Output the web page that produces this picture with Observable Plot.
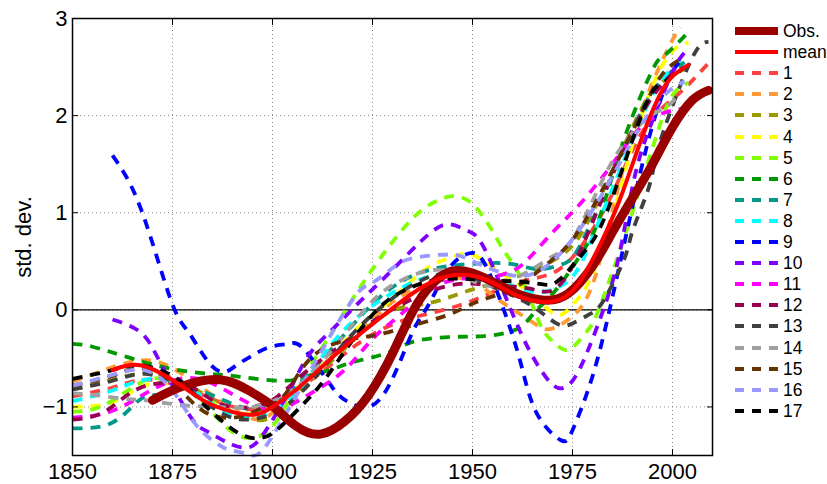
<!DOCTYPE html>
<html><head><meta charset="utf-8">
<script src="https://cdn.jsdelivr.net/npm/d3@7"></script>
<script src="https://cdn.jsdelivr.net/npm/@observablehq/plot@0.6"></script>
<style>
body{margin:0;background:#fff;}
#wrap{position:relative;width:827px;height:484px;font-family:"Liberation Sans",Arial,sans-serif;background:#fff;}
.row{position:absolute;left:735px;height:20px;display:flex;align-items:center;font-size:17.5px;color:#000;line-height:20px;}
.row svg{display:block;}
.row span{margin-left:4px;}
</style></head><body><div id="wrap"></div>
<script>
const xTicks = [1850, 1875, 1900, 1925, 1950, 1975, 2000];
const yTicks = [-1, 0, 1, 2, 3];
const names = ["Obs.", "mean", "1", "2", "3", "4", "5", "6", "7", "8", "9", "10", "11", "12", "13", "14", "15", "16", "17"];
const colors = ["#990000", "#ff0000", "#ff4040", "#ff9933", "#999900", "#ffff00", "#80ff00", "#009900", "#009988", "#00ffff", "#0000ff", "#8000ff", "#ff00ff", "#990050", "#404040", "#a0a0a0", "#663300", "#9999ff", "#000000"];

const obs = [[1870,-0.93],[1878,-0.78],[1887,-0.72],[1894,-0.83],[1900,-0.99],[1906,-1.2],[1912,-1.28],[1918,-1.15],[1924,-0.88],[1930,-0.45],[1935,-0.02],[1940,0.27],[1945,0.4],[1950,0.38],[1955,0.29],[1961,0.17],[1968,0.1],[1974,0.17],[1980,0.45],[1985,0.8],[1990,1.15],[1995,1.5],[2000,1.88],[2005,2.16],[2009,2.26]];
const meanLine = [[1860,-0.62],[1867,-0.57],[1874.5,-0.71],[1880,-0.86],[1885,-0.98],[1894,-1.08],[1900,-1.0],[1906,-0.82],[1912,-0.6],[1918,-0.38],[1924,-0.18],[1932,0.08],[1940,0.29],[1947,0.36],[1954,0.3],[1961,0.15],[1968,0.08],[1973,0.13],[1977,0.3],[1982,0.68],[1986.5,1.1],[1990,1.5],[1994.5,2.0],[1999,2.36],[2004,2.52]];
const m1 = [[1850,-0.89],[1860,-0.8],[1868,-0.72],[1878,-0.8],[1888,-0.97],[1896,-1.02],[1903,-0.9],[1912,-0.65],[1921,-0.36],[1930,-0.15],[1938,-0.05],[1947,0.05],[1955,0.18],[1963,0.3],[1971,0.4],[1978,0.7],[1985,1.2],[1992,1.8],[1998,2.1],[2003,2.28],[2009,2.54]];
const m2 = [[1850,-0.74],[1858,-0.62],[1867,-0.52],[1875,-0.6],[1885,-0.88],[1895,-1.12],[1901,-1.02],[1910,-0.66],[1920,-0.3],[1930,0.08],[1940,0.28],[1949,0.32],[1955,0.15],[1964,-0.1],[1969,-0.2],[1974,-0.1],[1978,0.08],[1982,0.53],[1988,1.5],[1994.5,2.29],[2000,2.78],[2002,2.91]];
const m3 = [[1850,-0.82],[1860,-0.72],[1870,-0.65],[1880,-0.8],[1890,-1.05],[1899,-1.12],[1908,-0.8],[1918,-0.4],[1928,-0.05],[1936,0.05],[1942,0.1],[1950,0.21],[1958,0.3],[1966,0.42],[1974,0.62],[1980,1.0],[1988,1.7],[1995,2.25],[2003,2.48]];
const m4 = [[1850,-1.0],[1860,-0.95],[1868,-0.78],[1878,-0.8],[1888,-1.02],[1897,-1.05],[1905,-0.85],[1913,-0.55],[1921,-0.2],[1930,0.12],[1937,0.38],[1942,0.5],[1947,0.57],[1951,0.55],[1957,0.39],[1965,0.15],[1971,-0.05],[1975,0.05],[1979.5,0.32],[1985,0.95],[1990,1.7],[1996,2.4],[2001,2.7],[2004,2.75]];
const m5 = [[1850,-1.05],[1858,-0.98],[1867,-0.75],[1874,-0.72],[1881,-0.88],[1888,-1.19],[1894,-1.32],[1900,-1.2],[1906,-0.8],[1913,-0.35],[1920,0.11],[1925,0.42],[1930,0.7],[1936,0.98],[1941,1.12],[1945,1.17],[1950,1.09],[1955,0.81],[1958,0.6],[1963,0.26],[1967,-0.16],[1971,-0.36],[1974.5,-0.4],[1979,-0.2],[1982,0.05],[1989,0.88],[1997,1.92],[2001,2.26],[2004,2.34]];
const m6 = [[1850,-0.35],[1855,-0.38],[1864,-0.49],[1875,-0.61],[1884.5,-0.66],[1890,-0.68],[1902,-0.73],[1909,-0.68],[1915,-0.61],[1920,-0.54],[1929,-0.44],[1935,-0.33],[1944,-0.28],[1953,-0.27],[1961,-0.2],[1965,-0.05],[1969,0.12],[1973,0.32],[1978,0.63],[1982,0.98],[1988,1.77],[1995,2.47],[1998,2.62],[2004,2.86]];
const m7 = [[1850,-1.22],[1860,-1.16],[1867,-0.92],[1872,-0.87],[1880,-0.82],[1890,-0.97],[1899,-1.0],[1908,-0.7],[1917,-0.3],[1926,0.1],[1935,0.35],[1944,0.45],[1953,0.48],[1960,0.47],[1966,0.42],[1971,0.45],[1974,0.5],[1977,0.67],[1983,1.2],[1990,1.85],[1996,2.3],[2003,2.55]];
const m8 = [[1850,-0.94],[1860,-0.83],[1868,-0.72],[1878,-0.78],[1888,-1.05],[1896,-1.1],[1905,-0.9],[1913,-0.45],[1922,-0.05],[1932,0.22],[1940,0.35],[1948,0.36],[1955,0.3],[1962,0.22],[1967,0.18],[1974.5,0.32],[1980,0.75],[1986,1.35],[1992,1.95],[1997,2.35],[2002,2.57]];
const m9 = [[1860,1.59],[1867,1.05],[1874.5,0.11],[1879,-0.23],[1884,-0.54],[1888,-0.64],[1891,-0.57],[1895,-0.47],[1899.5,-0.38],[1904,-0.35],[1908,-0.41],[1915,-0.8],[1919,-0.95],[1924,-1.0],[1929.5,-0.75],[1935,-0.23],[1939,0.05],[1944,0.42],[1949,0.58],[1953,0.48],[1958,-0.02],[1962,-0.54],[1966,-1.06],[1972,-1.34],[1975,-1.24],[1979.5,-0.75],[1984,-0.05],[1989,0.88],[1995,1.9],[2000,2.45],[2003,2.6]];
const m10 = [[1860,-0.1],[1867,-0.23],[1871,-0.47],[1875,-0.78],[1880,-1.13],[1884,-1.26],[1890,-1.39],[1895,-1.4],[1899,-1.2],[1904,-0.85],[1909,-0.47],[1915,-0.2],[1921,0.05],[1927,0.29],[1934,0.58],[1940,0.81],[1944.5,0.88],[1949,0.81],[1953,0.63],[1959.5,0.01],[1964.5,-0.44],[1969.5,-0.75],[1973,-0.8],[1976,-0.67],[1980,-0.3],[1985,0.29],[1988,0.84],[1991,1.45],[1995,1.95],[2000,2.45],[2003,2.65]];
const m11 = [[1850,-1.11],[1860,-1.04],[1870,-0.82],[1879,-0.7],[1887,-0.8],[1895,-0.98],[1902,-1.02],[1910,-0.85],[1918,-0.62],[1925,-0.3],[1932,-0.05],[1940,0.22],[1947,0.32],[1953,0.33],[1960,0.4],[1965,0.57],[1971,0.84],[1976,1.05],[1981,1.29],[1986,1.56],[1992,1.88],[1998,2.03],[2004,2.08]];
const m12 = [[1850,-1.13],[1858,-1.05],[1866,-0.82],[1874.5,-0.75],[1880,-0.8],[1887,-0.97],[1894.5,-1.0],[1901,-0.9],[1908,-0.65],[1916,-0.4],[1924,-0.15],[1932,0.05],[1940,0.2],[1948,0.27],[1956,0.25],[1964,0.22],[1970,0.2],[1975,0.45],[1980,0.9],[1986,1.5],[1992,2.0],[1998,2.35],[2003,2.5]];
const m13 = [[1850,-0.82],[1860,-0.73],[1868,-0.66],[1878,-0.8],[1888,-1.08],[1896,-1.12],[1903,-1.0],[1911,-0.68],[1920,-0.25],[1930,0.12],[1940,0.35],[1948,0.35],[1956,0.22],[1964.5,0.05],[1971,-0.14],[1975,-0.14],[1979.5,-0.04],[1983,0.11],[1988,0.53],[1990,0.81],[1994,1.25],[1996,1.6],[2000,2.1],[2005.5,2.64],[2009,2.76]];
const m14 = [[1850,-0.86],[1856,-0.88],[1864,-0.92],[1868,-0.93],[1877,-0.98],[1886,-1.0],[1895,-1.0],[1903,-0.88],[1911,-0.6],[1920,-0.15],[1928,0.2],[1936,0.37],[1940,0.41],[1946,0.38],[1952,0.26],[1958,0.28],[1965,0.42],[1970,0.55],[1974.5,0.7],[1980,1.12],[1986,1.6],[1993,1.95],[1998,2.08],[2001,2.18]];
const m15 = [[1850,-0.78],[1860,-0.68],[1867,-0.6],[1875,-0.75],[1883,-1.05],[1892,-1.1],[1898,-1.0],[1903,-0.88],[1910,-0.48],[1920,-0.3],[1927,-0.25],[1935,-0.16],[1944,-0.05],[1951,0.08],[1958,0.18],[1964,0.32],[1969.5,0.5],[1974,0.67],[1980,1.05],[1990,1.84],[1997,2.4],[2003,2.6]];
const m16 = [[1850,-0.78],[1860,-0.67],[1868,-0.62],[1875,-0.83],[1881,-1.19],[1887,-1.4],[1890,-1.45],[1894,-1.49],[1898,-1.42],[1906,-0.88],[1914,-0.3],[1921,0.16],[1925,0.28],[1930,0.43],[1935,0.53],[1944,0.57],[1949,0.52],[1956,0.4],[1963,0.35],[1970,0.5],[1978,0.9],[1986,1.45],[1993,1.95],[1999,2.25],[2003,2.35]];
const m17 = [[1850,-0.71],[1860,-0.62],[1867,-0.57],[1875,-0.68],[1880,-0.85],[1885,-1.06],[1892,-1.28],[1897,-1.32],[1901,-1.24],[1907,-1.0],[1910,-0.87],[1913,-0.72],[1918,-0.43],[1925,-0.05],[1932,0.18],[1940,0.3],[1948,0.32],[1955,0.3],[1962,0.29],[1968,0.26],[1972,0.32],[1978,0.6],[1984,1.05],[1993,2.08],[1998,2.35],[2003,2.5]];

const members = [m1, m2, m3, m4, m5, m6, m7, m8, m9, m10, m11, m12, m13, m14, m15, m16, m17];

const fmtY = d => d < 0 ? "\u2212" + Math.abs(d) : String(d);
const fmtX = d => String(d);
const font = "Liberation Sans, Arial, Helvetica, sans-serif";

const memberMarks = members.map((data, i) => Plot.line(data, {
  x: d => d[0], y: d => d[1], curve: "natural",
  stroke: colors[i + 2], strokeWidth: 3.8, strokeDasharray: "10,8", strokeLinecap: "butt"
}));

const chart = Plot.plot({
  width: 827, height: 484,
  marginLeft: 72, marginRight: 115, marginTop: 18, marginBottom: 29,
  x: {domain: [1850, 2010], label: null},
  y: {domain: [-1.5, 3], label: null},
  style: {fontFamily: font, fontSize: "22px", color: "#000", background: "#fff", overflow: "visible"},
  marks: [
    Plot.gridX(xTicks, {stroke: "#888", strokeOpacity: 1, strokeDasharray: "1,3"}),
    Plot.gridY(yTicks, {stroke: "#888", strokeOpacity: 1, strokeDasharray: "1,3"}),
    Plot.ruleY([0], {stroke: "#000", strokeWidth: 1.2}),
    ...memberMarks,
    Plot.line(obs, {x: d => d[0], y: d => d[1], curve: "natural", stroke: colors[0], strokeWidth: 9}),
    Plot.line(meanLine, {x: d => d[0], y: d => d[1], curve: "natural", stroke: colors[1], strokeWidth: 4}),
    Plot.frame({stroke: "#000", strokeWidth: 1.5}),
    Plot.axisX(xTicks, {anchor: "bottom", tickSize: 6, dy: -6, tickFormat: () => "", label: null}),
    Plot.axisX(xTicks, {anchor: "top", tickSize: 6, dy: 6, tickFormat: () => "", label: null}),
    Plot.axisY(yTicks, {anchor: "left", tickSize: 6, dx: 6, tickFormat: () => "", label: null}),
    Plot.axisY(yTicks, {anchor: "right", tickSize: 6, dx: -6, tickFormat: () => "", label: null}),
    Plot.axisX(xTicks, {anchor: "bottom", tickSize: 0, tickPadding: 8, fontSize: 22, tickFormat: fmtX, label: null}),
    Plot.axisY(yTicks, {anchor: "left", tickSize: 0, tickPadding: 5, fontSize: 22, tickFormat: fmtY,
      label: "std. dev.", labelAnchor: "center", labelOffset: 57, labelArrow: "none"})
  ]
});

const wrap = document.getElementById("wrap");
wrap.appendChild(chart);

names.forEach((name, i) => {
  const row = document.createElement("div");
  row.className = "row";
  row.style.top = (31 + i * 21.1 - 10) + "px";
  const ns = "http://www.w3.org/2000/svg";
  const svg = document.createElementNS(ns, "svg");
  svg.setAttribute("width", 44); svg.setAttribute("height", 10);
  const ln = document.createElementNS(ns, "line");
  ln.setAttribute("x1", 0); ln.setAttribute("x2", 43); ln.setAttribute("y1", 5); ln.setAttribute("y2", 5);
  ln.setAttribute("stroke", colors[i]);
  ln.setAttribute("stroke-width", i === 0 ? 8 : i === 1 ? 4 : 3.8);
  if (i > 1) ln.setAttribute("stroke-dasharray", "9,8");
  svg.appendChild(ln);
  const sp = document.createElement("span");
  sp.textContent = name;
  row.appendChild(svg); row.appendChild(sp);
  wrap.appendChild(row);
});
</script></body></html>
